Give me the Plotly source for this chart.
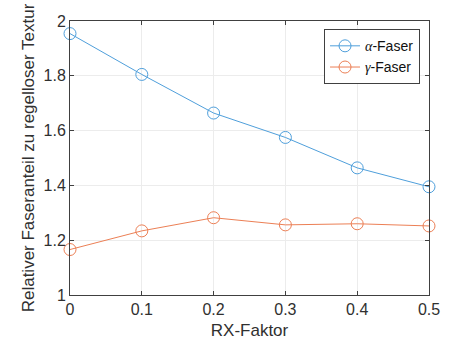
import plotly.graph_objects as go

rx_faktor = [0, 0.1, 0.2, 0.3, 0.4, 0.5]
alpha_faser = [1.954, 1.805, 1.664, 1.575, 1.464, 1.395]
gamma_faser = [1.166, 1.234, 1.282, 1.256, 1.260, 1.252]

x_ticks = [0, 0.1, 0.2, 0.3, 0.4, 0.5]
y_ticks = [1, 1.2, 1.4, 1.6, 1.8, 2]

blue = "#4f9fdb"
orange = "#ec7f55"
axis_col = "#303030"
font_family = "Liberation Sans, Arial, sans-serif"

fig = go.Figure()
fig.add_trace(go.Scatter(
    x=rx_faktor, y=alpha_faser, mode="lines+markers",
    name='<span style="font-family:Liberation Serif, serif;font-style:italic">α</span>-Faser',
    line=dict(color=blue, width=1),
    marker=dict(symbol="circle-open", size=12, color=blue, line=dict(width=1)),
    cliponaxis=False,
))
fig.add_trace(go.Scatter(
    x=rx_faktor, y=gamma_faser, mode="lines+markers",
    name='<span style="font-family:Liberation Serif, serif;font-style:italic">γ</span>-Faser',
    line=dict(color=orange, width=1),
    marker=dict(symbol="circle-open", size=12, color=orange, line=dict(width=1)),
    cliponaxis=False,
))

axis_common = dict(
    showline=True, linecolor="#404040", linewidth=1, mirror="ticks",
    ticks="inside", ticklen=4, tickcolor="#404040", tickwidth=1,
    showgrid=True, gridcolor="#ececec", gridwidth=1,
    zeroline=False, automargin=False,
    tickfont=dict(family=font_family, size=16, color=axis_col),
)

fig.update_layout(
    width=456, height=344,
    margin=dict(l=70, r=27, t=21, b=49),
    paper_bgcolor="white", plot_bgcolor="white",
    font=dict(family=font_family, color=axis_col),
    xaxis=dict(
        range=[0, 0.5], tickvals=x_ticks, ticktext=[f"{v:g}" for v in x_ticks],
        title=dict(text="RX-Faktor", font=dict(size=17, color=axis_col), standoff=6),
        **axis_common,
    ),
    yaxis=dict(
        range=[1, 2], tickvals=y_ticks, ticktext=[f"{v:g}" for v in y_ticks],
        title=dict(text="Relativer Faseranteil zu regelloser Textur",
                   font=dict(size=17, color=axis_col), standoff=4),
        **axis_common,
    ),
    legend=dict(
        x=0.975, y=0.97, xanchor="right", yanchor="top",
        bgcolor="white", bordercolor="#404040", borderwidth=1,
        font=dict(family=font_family, size=14, color="#111111"),
        tracegroupgap=0, itemwidth=30,
    ),
    showlegend=True,
)

fig.write_html("out.html")
